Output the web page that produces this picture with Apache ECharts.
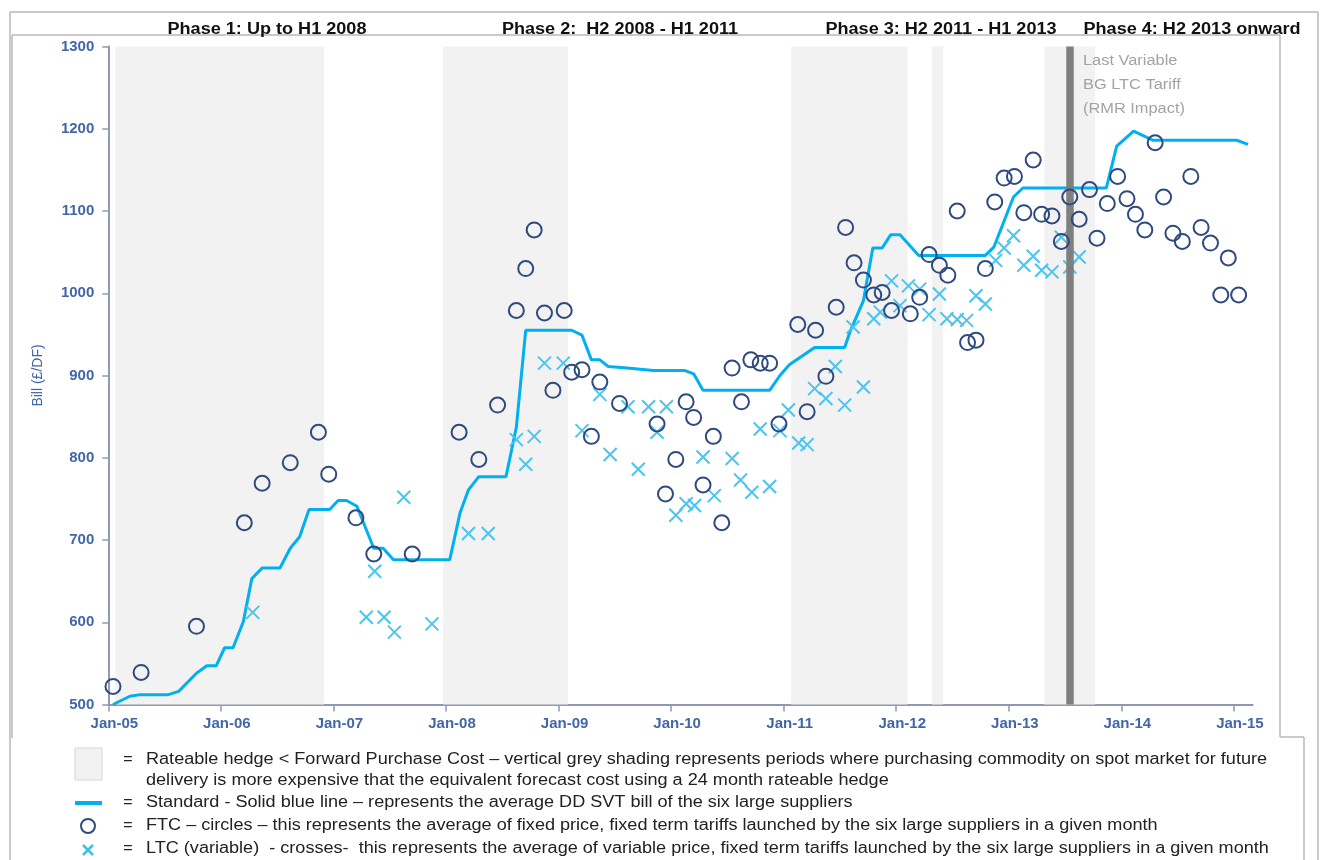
<!DOCTYPE html>
<html>
<head>
<meta charset="utf-8">
<script src="https://cdn.jsdelivr.net/npm/echarts@6/dist/echarts.min.js"></script>
<style>
html,body{margin:0;padding:0;background:#fff;}
#chart{width:1321px;height:860px;}
</style>
</head>
<body>
<div id="chart"></div>
<script>
// ---- Data (months since Jan-05 on x, £/DF bill on y) ----
const xTickLabels = ['Jan-05','Jan-06','Jan-07','Jan-08','Jan-09','Jan-10','Jan-11','Jan-12','Jan-13','Jan-14','Jan-15'];
const yTicks = [500,600,700,800,900,1000,1100,1200,1300];

const stdX = [0.5,2.3,3.4,6.4,7.5,9.4,10.5,11.5,12.4,13.3,14.4,15.3,16.4,18.3,19.4,20.4,21.4,23.6,24.5,25.4,26.5,28.3,29.3,30.4,36.4,37.5,38.4,39.5,42.4,43.5,44.5,49.4,50.5,51.5,52.4,53.3,55.3,58.1,61.5,62.4,63.4,70.5,71.6,72.6,75.3,78.5,79.1,80.5,81.5,82.5,83.4,84.4,86.4,93.5,94.4,96.5,97.5,106.4,107.5,109.3,111.4,120.3,121.5];
const stdY = [500,510,512,512,516,538,547,547,569,569,601,653,666,666,690,704,737,737,748,748,741,690,690,676,676,733,761,777,777,837,955,955,949,919,919,911,909,906,906,902,882,882,900,913,934,934,954,991,1055,1055,1071,1071,1046,1046,1056,1117,1128,1128,1179,1197,1186,1186,1181];

const ftcX = [0.5,3.5,9.4,14.5,16.4,19.4,22.4,23.5,26.4,28.3,32.4,37.4,39.5,41.5,43.5,44.5,45.4,46.5,47.4,48.6,49.4,50.5,51.5,52.4,54.5,58.5,59.4,60.5,61.6,62.4,63.4,64.5,65.4,66.5,67.5,68.5,69.5,70.5,71.5,73.5,74.5,75.4,76.5,77.6,78.6,79.5,80.5,81.6,82.5,83.5,85.5,86.5,87.5,88.6,89.5,90.5,91.6,92.5,93.5,94.5,95.5,96.6,97.6,98.6,99.5,100.6,101.6,102.5,103.5,104.6,105.4,106.5,107.6,108.6,109.5,110.5,111.6,112.5,113.5,114.5,115.4,116.5,117.5,118.6,119.4,120.5];
const ftcY = [522,539,595,721,769,794,831,780,727,683,683,831,798,864,979,1030,1077,976,882,979,904,907,826,892,866,841,756,798,868,849,767,826,721,909,868,919,915,915,841,962,856,955,899,983,1080,1037,1016,998,1001,979,975,995,1047,1034,1022,1100,940,943,1030,1111,1140,1142,1098,1162,1096,1094,1063,1117,1090,1126,1067,1109,1142,1115,1096,1077,1183,1117,1073,1063,1142,1080,1061,998,1043,998];

const ltcX = [15.4,27.5,28.4,29.4,30.5,31.5,34.5,38.4,40.5,43.5,44.5,45.4,46.5,48.5,50.5,52.4,53.5,55.4,56.5,57.6,58.5,59.5,60.5,61.6,62.5,63.4,64.6,66.5,67.4,68.6,69.5,70.5,71.6,72.5,73.6,74.5,75.3,76.5,77.5,78.5,79.4,80.5,81.6,82.3,83.5,84.4,85.3,86.5,87.5,88.6,89.4,90.5,91.5,92.5,93.5,94.6,95.5,96.5,97.6,98.6,99.5,100.6,101.6,102.5,103.5];
const ltcY = [612,606,662,606,588,752,598,708,708,822,792,826,915,915,833,877,804,862,786,862,831,862,730,744,742,801,754,799,773,758,835,765,833,858,818,816,884,872,911,864,959,886,969,977,1015,985,1009,1005,974,999,969,968,967,997,987,1040,1055,1070,1034,1045,1028,1026,1068,1032,1044];

// grey shaded periods (start month, end month)
const shadedStart = [0.75, 35.7, 72.8, 87.8, 99.8];
const shadedEnd   = [23.0, 49.0, 85.2, 89.0, 105.2];
const rmrLineMonth = 102.5;

const phaseLabels = ['Phase 1: Up to H1 2008','Phase 2:  H2 2008 - H1 2011','Phase 3: H2 2011 - H1 2013','Phase 4: H2 2013 onward'];
const annotationLines = ['Last Variable','BG LTC Tariff','(RMR Impact)'];
const legendRows = [
  'Rateable hedge < Forward Purchase Cost \u2013 vertical grey shading represents periods where purchasing commodity on spot market for future',
  'delivery is more expensive that the equivalent forecast cost using a 24 month rateable hedge',
  'Standard - Solid blue line \u2013 represents the average DD SVT bill of the six large suppliers',
  'FTC \u2013 circles \u2013 this represents the average of fixed price, fixed term tariffs launched by the six large suppliers in a given month',
  'LTC (variable)  - crosses-  this represents the average of variable price, fixed term tariffs launched by the six large suppliers in a given month'
];

// ---- Build ----
const zip = (a, b) => a.map((v, i) => [v, b[i]]);
const axisBlue = '#4266a8';
const frame = '#b9b9b9';
const fontBase = 'Liberation Sans, Arial, sans-serif';
const stretch = 1.13;

const chart = echarts.init(document.getElementById('chart'), null, {renderer: 'canvas'});

const graphics = [];
function gline(x1, y1, x2, y2, stroke, w) {
  graphics.push({type: 'line', silent: true, z: 1, shape: {x1, y1, x2, y2}, style: {stroke, lineWidth: w}});
}
// frames
gline(10, 12, 1318, 12, frame, 1.5);
gline(10, 12, 10, 860, frame, 1.5);
gline(1318, 12, 1318, 860, frame, 1.5);
gline(12, 35, 1280, 35, frame, 1.5);
gline(12, 35, 12, 738, frame, 1.5);
gline(1280, 35, 1280, 737, frame, 1.5);
gline(1280, 737, 1304, 737, frame, 1.5);
gline(1304, 737, 1304, 860, frame, 1.5);

// phase labels
const phaseCenters = [267, 620, 941, 1192];
phaseLabels.forEach((t, i) => {
  graphics.push({type: 'text', z: 5, x: phaseCenters[i], y: 38, scaleX: stretch, silent: true,
    style: {text: t, fill: '#111', font: 'bold 16px ' + fontBase, textAlign: 'center', textVerticalAlign: 'bottom'}});
});
// annotation
annotationLines.forEach((t, i) => {
  graphics.push({type: 'text', z: 5, x: 1083, y: 61 + i * 24, scaleX: 1.17, silent: true,
    style: {text: t, fill: '#a3a3a3', font: '14px ' + fontBase, textAlign: 'left', textVerticalAlign: 'middle'}});
});
// legend
const rowY = [760, 781, 803, 826, 849];
legendRows.forEach((t, i) => {
  if (i !== 1) {
    graphics.push({type: 'text', z: 5, x: 128, y: rowY[i], silent: true,
      style: {text: '=', fill: '#222', font: '16px ' + fontBase, textAlign: 'center', textVerticalAlign: 'middle'}});
  }
  graphics.push({type: 'text', z: 5, x: 146, y: rowY[i], scaleX: stretch, silent: true,
    style: {text: t, fill: '#222', font: '16px ' + fontBase, textAlign: 'left', textVerticalAlign: 'middle'}});
});
graphics.push({type: 'rect', z: 5, silent: true, shape: {x: 75, y: 748, width: 27, height: 32},
  style: {fill: '#f2f2f2', stroke: '#d6d6d6', lineWidth: 1}});
gline(75, 803, 102, 803, '#00b0f0', 4);
graphics.push({type: 'circle', z: 5, silent: true, shape: {cx: 88, cy: 826, r: 7},
  style: {fill: 'none', stroke: '#2e4a7e', lineWidth: 2}});
gline(83, 845, 93, 855, '#3fbdeb', 2.5);
gline(93, 845, 83, 855, '#3fbdeb', 2.5);

const option = {
  animation: false,
  backgroundColor: '#fff',
  grid: {left: 108.3, right: 68.3, top: 46.5, bottom: 155.5, containLabel: false},
  xAxis: {
    type: 'value', min: 0, max: 122, interval: 12,
    splitLine: {show: false},
    axisLine: {lineStyle: {color: '#9198b3', width: 2}},
    axisTick: {show: true, length: 7, lineStyle: {color: '#9198b3', width: 1.5},
      customValues: xTickLabels.map((_, i) => i * 12)},
    axisLabel: {
      customValues: xTickLabels.map((_, i) => i * 12),
      formatter: v => xTickLabels[Math.round(v / 12)] || '',
      color: axisBlue, fontFamily: fontBase, fontSize: 15, fontWeight: 'bold',
      margin: 12, padding: [0, 0, 0, 12]
    }
  },
  yAxis: {
    type: 'value', min: yTicks[0], max: yTicks[yTicks.length - 1], interval: 100,
    splitLine: {show: false},
    axisLine: {show: true, lineStyle: {color: '#9198b3', width: 2}},
    axisTick: {show: true, length: 6, lineStyle: {color: '#9198b3', width: 1.5}},
    axisLabel: {color: axisBlue, fontFamily: fontBase, fontSize: 15, fontWeight: 'bold', margin: 14,
      formatter: v => String(v)},
    name: 'Bill (\u00a3/DF)', nameLocation: 'middle', nameRotate: 90, nameGap: 63,
    nameTextStyle: {color: axisBlue, fontFamily: fontBase, fontSize: 14}
  },
  graphic: graphics,
  series: [
    {
      type: 'scatter', data: [], silent: true, z: 0,
      markArea: {
        silent: true,
        itemStyle: {color: '#f2f2f2'},
        data: shadedStart.map((s, i) => [{xAxis: s}, {xAxis: shadedEnd[i]}])
      },
      markLine: {
        silent: true, symbol: 'none', label: {show: false},
        lineStyle: {color: '#7f7f7f', width: 7.5, type: 'solid'},
        data: [{xAxis: rmrLineMonth}]
      }
    },
    {
      name: 'Standard', type: 'line', data: zip(stdX, stdY), showSymbol: false, symbol: 'none', z: 3,
      lineStyle: {color: '#00b0f0', width: 3}
    },
    {
      name: 'LTC', type: 'scatter', data: zip(ltcX, ltcY), z: 4,
      symbol: 'path://M0,0L10,10M10,0L0,10', symbolSize: 13,
      itemStyle: {color: 'none', borderColor: '#4cc4ee', borderWidth: 2, opacity: 1}
    },
    {
      name: 'FTC', type: 'scatter', data: zip(ftcX, ftcY), z: 5,
      symbol: 'circle', symbolSize: 15,
      itemStyle: {color: 'rgba(255,255,255,0)', borderColor: '#2e4a7e', borderWidth: 2, opacity: 1}
    }
  ]
};
chart.setOption(option);
</script>
</body>
</html>
